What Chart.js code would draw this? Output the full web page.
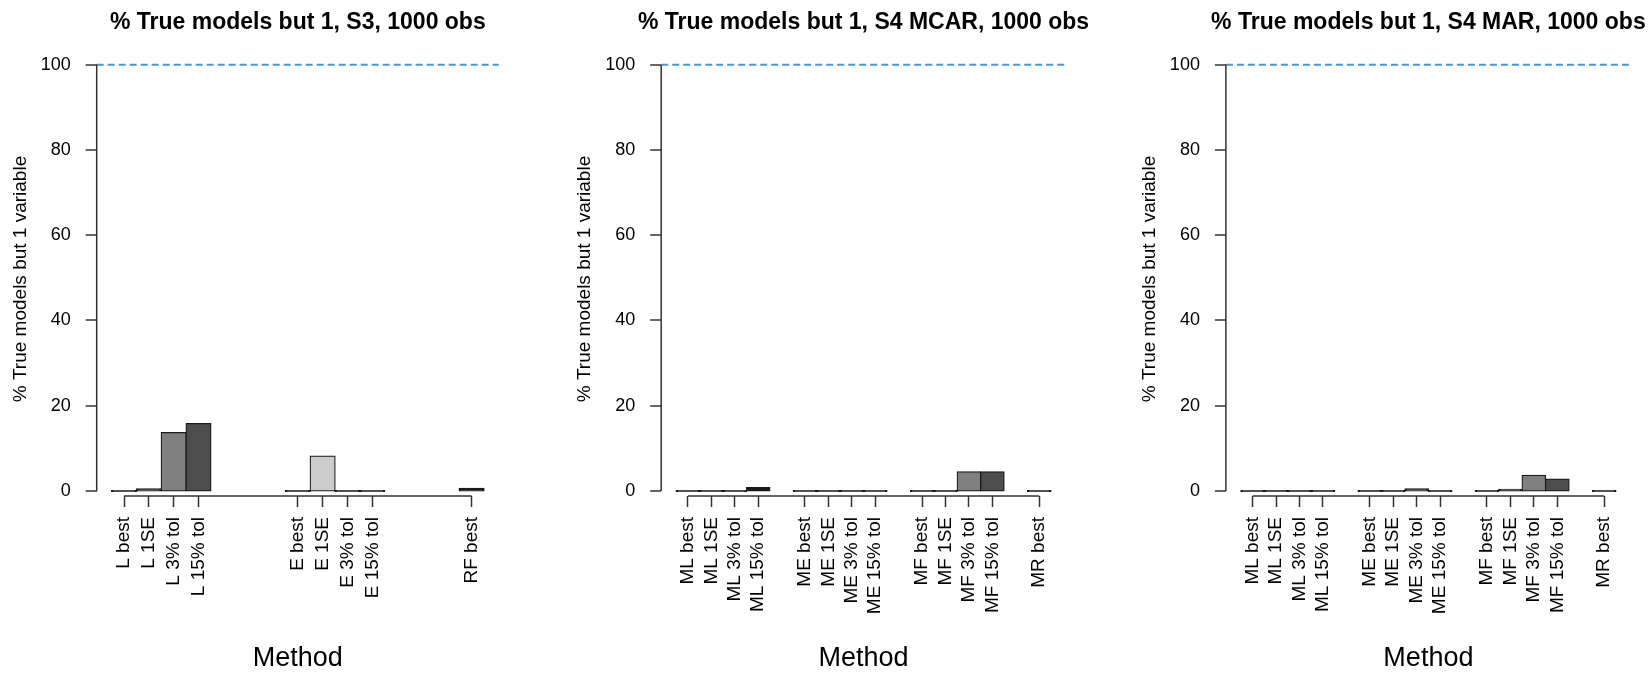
<!DOCTYPE html>
<html><head><meta charset="utf-8">
<script src="https://cdn.jsdelivr.net/npm/chart.js@4.4.1/dist/chart.umd.min.js"></script>
<style>
html,body{margin:0;padding:0;background:#fff;width:1648px;height:675px;overflow:hidden;position:relative}
canvas{position:absolute;top:0}
</style></head><body>
<canvas id="c1" width="564" height="675" style="left:0px"></canvas>
<canvas id="c2" width="564" height="675" style="left:564px"></canvas>
<canvas id="c3" width="564" height="675" style="left:1129px"></canvas>
<script>
// ---------- data ----------
const panelTitles = [
  '% True models but 1, S3, 1000 obs',
  '% True models but 1, S4 MCAR, 1000 obs',
  '% True models but 1, S4 MAR, 1000 obs'
];
const yAxisTitle = '% True models but 1 variable';
const xAxisTitle = 'Method';
const yTickValues = [0, 20, 40, 60, 80, 100];
const referenceLevel = 100;

// '' = empty slot between method groups
const s3Categories = ['L best','L 1SE','L 3% tol','L 15% tol','','','',
                      'E best','E 1SE','E 3% tol','E 15% tol','','','','RF best'];
const s3Values     = [0, 0.5, 13.7, 15.8, null, null, null,
                      0, 8.2, 0, 0, null, null, null, 0.6];

const s4mcarCategories = ['ML best','ML 1SE','ML 3% tol','ML 15% tol','',
                          'ME best','ME 1SE','ME 3% tol','ME 15% tol','',
                          'MF best','MF 1SE','MF 3% tol','MF 15% tol','','MR best'];
const s4mcarValues     = [0, 0, 0, 0.8, null,
                          0, 0, 0, 0, null,
                          0, 0, 4.5, 4.5, null, 0];

const s4marCategories = ['ML best','ML 1SE','ML 3% tol','ML 15% tol','',
                         'ME best','ME 1SE','ME 3% tol','ME 15% tol','',
                         'MF best','MF 1SE','MF 3% tol','MF 15% tol','','MR best'];
const s4marValues     = [0, 0, 0, 0, null,
                         0, 0, 0.5, 0, null,
                         0, 0.4, 3.7, 2.8, null, 0];

// ---------- styling / layout ----------
const FONT = "'Liberation Sans', Arial, sans-serif";
const AXIS_COLOR = '#333333';
const EDGE_COLOR = '#1a1a1a';
function barColor(label, v) {
  if (v < 1) return EDGE_COLOR;            // very thin bars render as a dark edge line
  if (label.indexOf('15% tol') >= 0) return '#4d4d4d';
  if (label.indexOf('3% tol') >= 0) return '#808080';
  if (label.indexOf('1SE') >= 0) return '#cccccc';
  return '#ffffff';
}
const panelLayout = [
  { yAxisWidth: 96.7, padRight: 65.1 },
  { yAxisWidth: 97.2, padRight: 62.1 },
  { yAxisWidth: 96.9, padRight: 62.1 }
];

const rAxes = {
  id: 'rAxes',
  afterDatasetsDraw(chart) {
    const { ctx, chartArea, scales: { x, y } } = chart;
    ctx.save();
    ctx.strokeStyle = AXIS_COLOR;
    ctx.lineWidth = 1.5;
    ctx.beginPath();
    ctx.moveTo(chartArea.left, y.getPixelForValue(yTickValues[0]));
    ctx.lineTo(chartArea.left, y.getPixelForValue(yTickValues[yTickValues.length - 1]));
    const xt = x.ticks;
    ctx.moveTo(x.getPixelForValue(xt[0].value), chartArea.bottom);
    ctx.lineTo(x.getPixelForValue(xt[xt.length - 1].value), chartArea.bottom);
    ctx.stroke();
    ctx.restore();
  }
};

const rTitle = {
  id: 'rTitle',
  afterDraw(chart, args, opts) {
    const { ctx, chartArea } = chart;
    ctx.save();
    ctx.font = 'bold 23px ' + FONT;
    ctx.fillStyle = '#000';
    ctx.textAlign = 'center';
    ctx.textBaseline = 'alphabetic';
    ctx.fillText(opts.text, (chartArea.left + chartArea.right) / 2, 28.5);
    ctx.restore();
  }
};

function makePanel(canvasId, title, categories, values, layout) {
  const n = categories.length;
  const xMin = -0.5 - 0.04 * n;
  const xMax = n - 0.5 + 0.04 * n;
  const barData = [], colors = [];
  categories.forEach((c, i) => {
    if (c !== '' && values[i] !== null) {
      barData.push({ x: i, y: values[i] });
      colors.push(barColor(c, values[i]));
    }
  });
  new Chart(document.getElementById(canvasId), {
    type: 'bar',
    data: {
      datasets: [
        {
          type: 'bar',
          data: barData,
          backgroundColor: colors,
          borderColor: EDGE_COLOR,
          borderWidth: 1.25,
          borderSkipped: false,
          inflateAmount: 0.6,
          minBarLength: 0.8,
          barPercentage: 1,
          categoryPercentage: 1,
          order: 2
        },
        {
          type: 'line',
          data: [{ x: xMin, y: referenceLevel }, { x: xMax, y: referenceLevel }],
          borderColor: '#4d94dc',
          borderWidth: 2,
          borderDash: [7, 4],
          pointRadius: 0,
          fill: false,
          order: 1
        }
      ]
    },
    options: {
      responsive: false,
      animation: false,
      devicePixelRatio: 1,
      layout: { padding: { top: 62, left: 0, bottom: 0, right: layout.padRight } },
      plugins: {
        legend: { display: false },
        tooltip: { enabled: false },
        title: { display: false },
        rTitle: { text: title }
      },
      scales: {
        x: {
          type: 'linear',
          min: xMin,
          max: xMax,
          offset: false,
          afterBuildTicks: (scale) => {
            scale.ticks = categories
              .map((c, i) => (c !== '' ? { value: i } : null))
              .filter(Boolean);
          },
          afterFit: (scale) => { scale.height = 179; },
          ticks: {
            autoSkip: false,
            minRotation: 90,
            maxRotation: 90,
            padding: 10,
            color: '#000',
            font: { family: FONT, size: 19 },
            callback: (v) => categories[v]
          },
          grid: {
            display: true,
            offset: false,
            drawOnChartArea: false,
            drawTicks: true,
            tickLength: 11,
            tickWidth: 1.5,
            tickColor: AXIS_COLOR
          },
          border: { display: false },
          title: {
            display: true,
            text: xAxisTitle,
            color: '#000',
            font: { family: FONT, size: 27 },
            padding: { top: 0, bottom: 0 }
          }
        },
        y: {
          type: 'linear',
          min: -1.173,
          max: 100.63,
          afterBuildTicks: (scale) => {
            scale.ticks = yTickValues.map(v => ({ value: v }));
          },
          afterFit: (scale) => { scale.width = layout.yAxisWidth; },
          ticks: {
            padding: 15,
            color: '#000',
            font: { family: FONT, size: 18 },
            callback: (v) => String(v)
          },
          grid: {
            display: true,
            lineWidth: 0,
            drawOnChartArea: false,
            drawTicks: true,
            tickLength: 11,
            tickWidth: 1.5,
            tickColor: AXIS_COLOR
          },
          border: { display: false },
          title: {
            display: true,
            text: yAxisTitle,
            color: '#000',
            font: { family: FONT, size: 19 },
            padding: { top: 9, bottom: 0 }
          }
        }
      }
    },
    plugins: [rAxes, rTitle]
  });
}

makePanel('c1', panelTitles[0], s3Categories, s3Values, panelLayout[0]);
makePanel('c2', panelTitles[1], s4mcarCategories, s4mcarValues, panelLayout[1]);
makePanel('c3', panelTitles[2], s4marCategories, s4marValues, panelLayout[2]);
</script>
</body></html>
